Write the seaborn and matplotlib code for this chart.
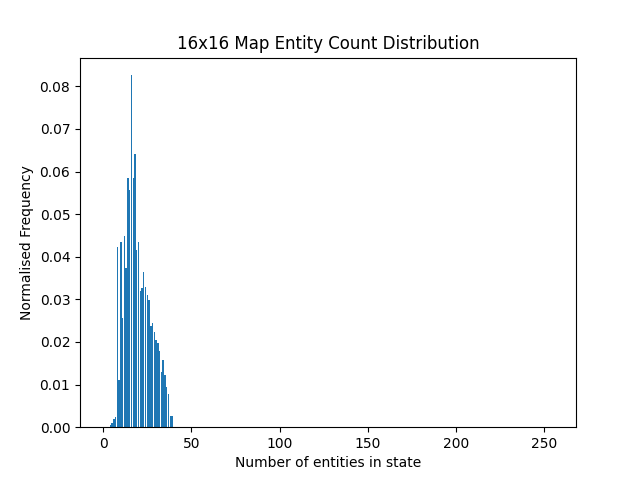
import numpy as np
import pandas as pd
import seaborn as sns
import matplotlib.pyplot as plt

# entity counts 0..255, frequencies (zero beyond 39)
entity_counts = list(range(256))
nonzero_freq = [0.0, 0.0, 0.0, 0.0, 0.0005, 0.0010, 0.0019, 0.0023,
                0.0422, 0.0110, 0.0434, 0.0257, 0.0448, 0.0373, 0.0584, 0.0556,
                0.0826, 0.0584, 0.0640, 0.0415, 0.0434, 0.0319, 0.0326, 0.0364,
                0.0329, 0.0310, 0.0298, 0.0237, 0.0244, 0.0223, 0.0204, 0.0197,
                0.0178, 0.0129, 0.0157, 0.0122, 0.0094, 0.0077, 0.0026, 0.0026]
frequency = nonzero_freq + [0.0] * (256 - len(nonzero_freq))

df = pd.DataFrame({'count': entity_counts, 'freq': frequency})

fig, ax = plt.subplots(figsize=(6.4, 4.8), dpi=100)
sns.barplot(data=df, x='count', y='freq', native_scale=True, errorbar=None,
            color='#1f77b4', saturation=1, linewidth=0, width=0.8, ax=ax)
ax.set_title('16x16 Map Entity Count Distribution')
ax.set_xlabel('Number of entities in state')
ax.set_ylabel('Normalised Frequency')
fig.savefig('out.png')
